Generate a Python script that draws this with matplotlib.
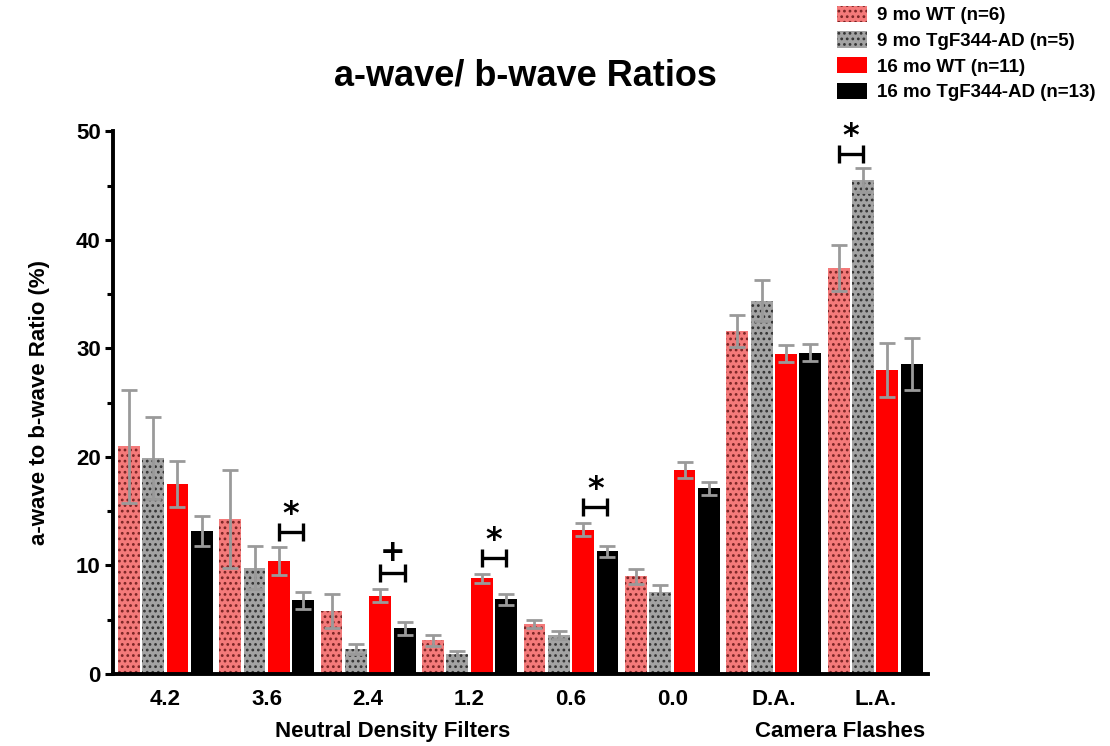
import numpy as np
import matplotlib
matplotlib.use("Agg")
import matplotlib.pyplot as plt
from matplotlib.patches import Patch
from matplotlib.ticker import MultipleLocator

plt.rcParams['font.family'] = ['Liberation Sans', 'DejaVu Sans']
plt.rcParams['hatch.linewidth'] = 1.2

categories = ["4.2", "3.6", "2.4", "1.2", "0.6", "0.0", "D.A.", "L.A."]
series_names = ["9 mo WT (n=6)", "9 mo TgF344-AD (n=5)",
                "16 mo WT (n=11)", "16 mo TgF344-AD (n=13)"]

wt9 = [21.0, 14.3, 5.8, 3.1, 4.6, 9.0, 31.6, 37.4]
wt9_err = [5.2, 4.5, 1.6, 0.5, 0.4, 0.7, 1.5, 2.1]
tg9 = [19.9, 9.8, 2.3, 1.8, 3.6, 7.6, 34.4, 45.5]
tg9_err = [3.8, 2.0, 0.5, 0.3, 0.4, 0.6, 1.9, 1.1]
wt16 = [17.5, 10.4, 7.2, 8.8, 13.3, 18.8, 29.5, 28.0]
wt16_err = [2.1, 1.3, 0.6, 0.4, 0.6, 0.7, 0.8, 2.5]
tg16 = [13.2, 6.8, 4.2, 6.9, 11.3, 17.1, 29.6, 28.6]
tg16_err = [1.4, 0.8, 0.6, 0.5, 0.5, 0.6, 0.8, 2.4]

# significance marks: (group index, first bar, second bar, height, symbol)
sig_marks = [(1, 2, 3, 13.1, "*"), (2, 2, 3, 9.3, "+"), (3, 2, 3, 10.7, "*"),
             (4, 2, 3, 15.4, "*"), (7, 0, 1, 47.9, "*")]

values = [wt9, tg9, wt16, tg16]
errors = [wt9_err, tg9_err, wt16_err, tg16_err]
faces = ["#f47a7a", "#a3a3a3", "#ff0000", "#000000"]
hatch_cols = ["#7a2424", "#333333", None, None]
hatches = ["...", "...", None, None]

fig = plt.figure(figsize=(11.10, 7.46), dpi=100)
ax = fig.add_axes([0.102, 0.0965, 0.734, 0.7275])

x = np.arange(len(categories))
step = 0.24
width = 0.215
offsets = (np.arange(4) - 1.5) * step

for i in range(4):
    pos = x + offsets[i]
    if hatches[i]:
        ax.bar(pos, values[i], width, color=faces[i], edgecolor=hatch_cols[i],
               hatch=hatches[i], linewidth=0, zorder=2)
    else:
        ax.bar(pos, values[i], width, color=faces[i], linewidth=0, zorder=2)
    ax.errorbar(pos, values[i], yerr=errors[i], fmt="none", ecolor="#9a9a9a",
                elinewidth=2, capsize=5.5, capthick=2, zorder=3)

for g, a, b, h, sym in sig_marks:
    x1 = x[g] + offsets[a]
    x2 = x[g] + offsets[b]
    ax.plot([x1, x2], [h, h], color="black", lw=2.4, zorder=4,
            solid_capstyle="butt")
    ax.plot([x1, x1], [h - 0.85, h + 0.85], color="black", lw=2.4, zorder=4,
            solid_capstyle="butt")
    ax.plot([x2, x2], [h - 0.85, h + 0.85], color="black", lw=2.4, zorder=4,
            solid_capstyle="butt")
    if sym == "*":
        ax.text((x1 + x2) / 2, h + 0.2, sym, ha="center", va="bottom",
                fontsize=23, fontweight="bold", family="DejaVu Sans")
    else:
        ax.text((x1 + x2) / 2, h + 0.6, sym, ha="center", va="bottom",
                fontsize=22, fontweight="bold", family="DejaVu Sans")

ax.set_xlim(-0.513, 7.52)
ax.set_ylim(0, 50)
ax.set_xticks(x)
ax.set_xticklabels(categories)
ax.yaxis.set_major_locator(MultipleLocator(10))
ax.yaxis.set_minor_locator(MultipleLocator(5))
ax.tick_params(axis="x", length=0, pad=11, labelsize=16)
ax.tick_params(axis="y", which="major", length=6, width=2.2, labelsize=16, pad=3)
ax.tick_params(axis="y", which="minor", length=4, width=2.2)
for lab in ax.get_xticklabels() + ax.get_yticklabels():
    lab.set_fontweight("bold")

for s in ["top", "right"]:
    ax.spines[s].set_visible(False)
for s in ["left", "bottom"]:
    ax.spines[s].set_linewidth(2.8)

fig.text(0.036, 0.46, "a-wave to b-wave Ratio (%)", rotation=90,
         ha="center", va="center", fontsize=16, fontweight="bold")
fig.text(0.473, 0.898, "a-wave/ b-wave Ratios", ha="center", va="center",
         fontsize=26, fontweight="bold")
fig.text(0.354, 0.019, "Neutral Density Filters", ha="center", va="center",
         fontsize=16, fontweight="bold")
fig.text(0.757, 0.019, "Camera Flashes", ha="center", va="center",
         fontsize=16, fontweight="bold")

handles = []
for i in range(4):
    if hatches[i]:
        handles.append(Patch(facecolor=faces[i], edgecolor=hatch_cols[i],
                             hatch=hatches[i], linewidth=0))
    else:
        handles.append(Patch(facecolor=faces[i], linewidth=0))
leg = fig.legend(handles, series_names, loc="upper left",
                 bbox_to_anchor=(0.739, 1.015), frameon=False,
                 prop={"weight": "bold", "size": 13.5}, handlelength=1.6,
                 handleheight=0.95, labelspacing=0.38, handletextpad=0.5)

fig.savefig("out.png", dpi=100)
